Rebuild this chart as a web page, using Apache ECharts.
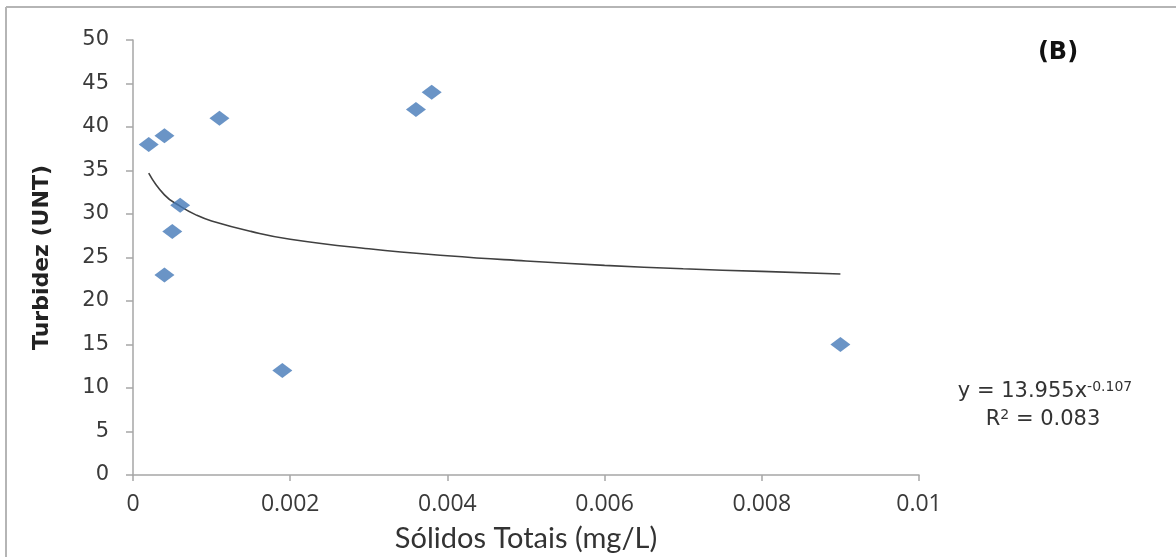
<!DOCTYPE html>
<html>
<head>
<meta charset="utf-8">
<script src="https://cdn.jsdelivr.net/npm/echarts@6/dist/echarts.min.js"></script>
<style>
html,body{margin:0;padding:0;background:#fff;}
#c{width:1176px;height:557px;}
</style>
</head>
<body>
<div id="c"></div>
<script>
// Observed points (Sólidos Totais mg/L, Turbidez UNT)
const solidos = [0.0002, 0.0004, 0.0011, 0.0006, 0.0005, 0.0004, 0.0019, 0.0036, 0.0038, 0.009];
const turbidez = [38, 39, 41, 31, 28, 23, 12, 42, 44, 15];
// Trendline
const trendX = [0.0002, 0.0004, 0.0006, 0.0008, 0.001, 0.0015, 0.002, 0.003, 0.004, 0.005, 0.006, 0.007, 0.008, 0.009];
const trendY = [34.7, 32.2, 30.9, 29.9, 29.2, 28.0, 27.1, 26.0, 25.2, 24.6, 24.1, 23.7, 23.4, 23.1];
const xTicks = ['0', '0.002', '0.004', '0.006', '0.008', '0.01'];

const chart = echarts.init(document.getElementById('c'));
const axisColor = '#a6a6a6';
chart.setOption({
  animation: false,
  backgroundColor: '#ffffff',
  grid: { left: 133, top: 40, right: 257, bottom: 82, containLabel: false, outerBoundsMode: 'none' },
  xAxis: {
    type: 'value', min: 0, max: 0.01, interval: 0.002,
    name: 'Sólidos Totais (mg/L)', nameLocation: 'middle', nameGap: 49,
    nameTextStyle: { fontFamily: 'Lato', fontSize: 29, color: '#333' },
    axisLine: { show: true, lineStyle: { color: axisColor, width: 1.5 } },
    axisTick: { show: true, length: 6, lineStyle: { color: axisColor, width: 1.5 } },
    splitLine: { show: false },
    axisLabel: {
      margin: 18, fontFamily: 'Open Sans', fontSize: 23, color: '#3a3a3a',
      formatter: function (v) { return xTicks[Math.round(v / 0.002)]; }
    }
  },
  yAxis: {
    type: 'value', min: 0, max: 50, interval: 5,
    name: 'Turbidez (UNT)', nameLocation: 'middle', nameGap: 80, nameRotate: 90,
    nameTextStyle: { fontFamily: 'DejaVu Sans', fontSize: 22, color: '#222', fontWeight: 'bold' },
    axisLine: { show: true, lineStyle: { color: axisColor, width: 1.5 } },
    axisTick: { show: true, length: 7, lineStyle: { color: axisColor, width: 1.5 } },
    splitLine: { show: false },
    axisLabel: { margin: 24, fontFamily: 'DejaVu Sans', fontSize: 21, color: '#3a3a3a' }
  },
  series: [
    {
      type: 'line', data: trendX.map((x, i) => [x, trendY[i]]),
      smooth: true, showSymbol: false, symbol: 'none',
      lineStyle: { color: '#404040', width: 1.6 }, z: 1
    },
    {
      type: 'scatter', data: solidos.map((x, i) => [x, turbidez[i]]),
      symbol: 'diamond', symbolSize: [20, 15],
      itemStyle: { color: '#4579b8' }, z: 2
    }
  ],
  graphic: [
    { type: 'line', shape: { x1: 6, y1: 7, x2: 1176, y2: 7 }, style: { stroke: '#b5b5b5', lineWidth: 2 } },
    { type: 'line', shape: { x1: 6, y1: 7, x2: 6, y2: 557 }, style: { stroke: '#b5b5b5', lineWidth: 2 } },
    { type: 'text', x: 1058, y: 53, style: { text: '(B)', font: 'bold 24px "DejaVu Sans"', fill: '#111', align: 'center', verticalAlign: 'middle' } },
    {
      type: 'text', x: 1045, y: 392,
      style: {
        align: 'center', verticalAlign: 'middle',
        text: '{n|y = 13.955x}{s|-0.107}', rich: {
          n: { font: '21px "DejaVu Sans"', fill: '#333' },
          s: { font: '14px "DejaVu Sans"', fill: '#333', padding: [0, 0, 10, 0] }
        }
      }
    },
    {
      type: 'text', x: 1043, y: 420,
      style: {
        align: 'center', verticalAlign: 'middle',
        text: '{n|R}{s|2}{n| = 0.083}', rich: {
          n: { font: '21px "DejaVu Sans"', fill: '#333' },
          s: { font: '14px "DejaVu Sans"', fill: '#333', padding: [0, 0, 10, 0] }
        }
      }
    }
  ]
});
</script>
</body>
</html>
